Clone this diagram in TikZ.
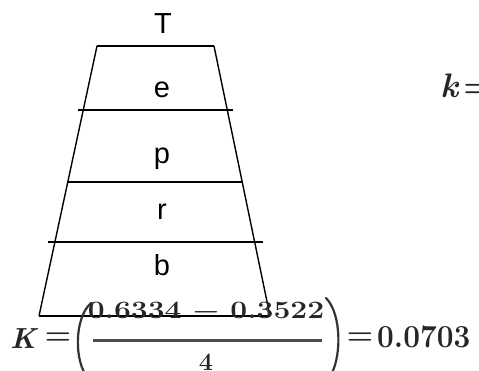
\documentclass[tikz,border=0pt]{standalone}
\usepackage{fontspec}
\newfontfamily\labelfont{Liberation Sans}
\tikzset{
  edge/.style={line width=1.4pt, black},
  lbl/.style={anchor=base, inner sep=0pt, font=\labelfont\fontsize{29}{30}\selectfont},
  mth/.style={inner sep=0pt, text=black!85, font=\fontsize{30}{32}\selectfont\bfseries},
  numtxt/.style={inner sep=0pt, text=black!85, font=\fontsize{25}{26}\selectfont\bfseries},
  paren/.style={line width=2.2pt, black!80, line cap=round},
}
\begin{document}
\begin{tikzpicture}[x=1pt,y=-1pt]
\useasboundingbox (0,0) rectangle (479,370);
\coordinate (TL) at (97,46);
\coordinate (TR) at (214,46);
\coordinate (BL) at (39,316);
\coordinate (BR) at (270,316);
\coordinate (a1) at (78,110);  \coordinate (a2) at (233,110);
\coordinate (b1) at (68,182);  \coordinate (b2) at (243,182);
\coordinate (c1) at (48,242);  \coordinate (c2) at (263,242);
\draw[edge] (TL) -- (TR);
\draw[edge] (TL) -- (BL);
\draw[edge] (TR) -- (BR);
\draw[edge] (BL) -- (BR);
\draw[edge] (a1) -- (a2);
\draw[edge] (b1) -- (b2);
\draw[edge] (c1) -- (c2);
\node[lbl] (T) at (163,33) {T};
\node[lbl] (e) at (162,97) {e};
\node[lbl] (p) at (162,163) {p};
\node[lbl] (r) at (162,219) {r};
\node[lbl] (b) at (162,275) {b};
\node[mth, anchor=base west, font=\fontsize{34}{36}\selectfont\bfseries] (k) at (440,97) {\itshape k\upshape\hspace{5pt}=};
\node[mth, anchor=base, font=\fontsize{29}{30}\selectfont\bfseries\itshape] (K) at (23,348) {K};
\node[mth] (eq1) at (58,339) {=};
\node[numtxt, anchor=base, xscale=1.2, transform shape] (num) at (206,318) {0.6334 − 0.3522};
\coordinate (bar1) at (93,340);
\coordinate (bar2) at (322,340);
\draw[line width=3pt, black!70] (bar1) -- (bar2);
\node[numtxt, anchor=base] (den) at (206,370) {4};
\coordinate (lp1) at (91,303);
\coordinate (lp2) at (88,378);
\coordinate (rp1) at (326,298);
\coordinate (rp2) at (329,378);
\draw[paren] (lp1) .. controls (74,318) and (74,362) .. (lp2);
\draw[paren] (rp1) .. controls (342,314) and (342,360) .. (rp2);
\node[mth] (eq2) at (360,339) {=};
\node[mth, anchor=base west, xscale=0.93, transform shape, font=\fontsize{32}{34}\selectfont\bfseries] (res) at (377,347) {0.0703};
\end{tikzpicture}
\end{document}
